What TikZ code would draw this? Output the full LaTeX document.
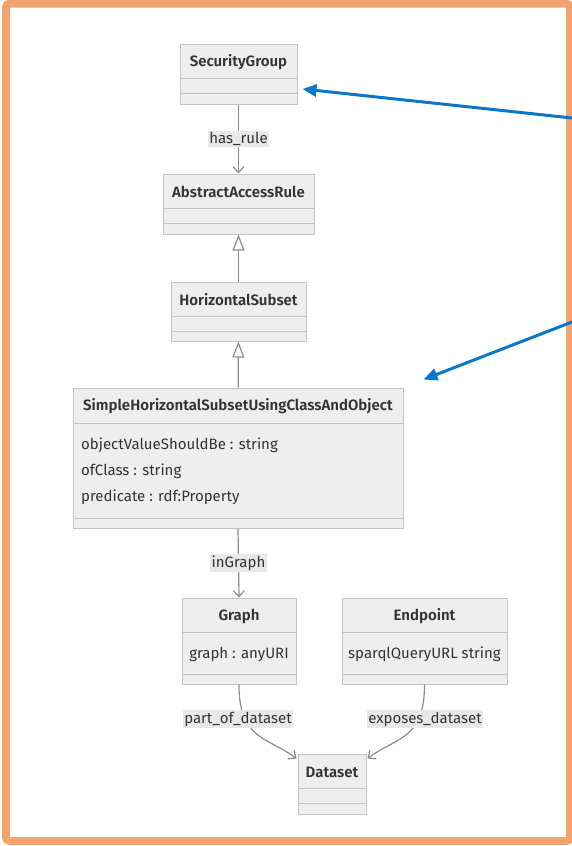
\documentclass[tikz,border=0pt]{standalone}
\usepackage{fontspec}
\setmainfont{Fira Sans}[BoldFont={Fira Sans SemiBold}]
\usetikzlibrary{arrows.meta,positioning}

\definecolor{boxfill}{HTML}{EEEEEE}
\definecolor{boxline}{HTML}{C4C4C4}
\definecolor{linkgray}{HTML}{8C8C8C}
\definecolor{lblfill}{HTML}{E8E8E8}
\definecolor{txt}{HTML}{333333}
\definecolor{frameorange}{HTML}{F3A46E}
\definecolor{callblue}{HTML}{0A78C6}

\tikzset{
  box/.style={draw=boxline, fill=boxfill, line width=1pt, inner sep=0pt},
  sep/.style={draw=boxline, line width=1pt},
  ttl/.style={font=\fontsize{15}{17}\selectfont\bfseries, text=txt},
  attr/.style={font=\fontsize{15}{17}\selectfont, text=txt, inner sep=0pt},
  lbl/.style={font=\fontsize{15}{17}\selectfont, text=txt, fill=lblfill, inner sep=1.5pt},
  assoc/.style={draw=linkgray, line width=1.2pt, -{Straight Barb[length=6pt,width=11pt]}},
  inherit/.style={draw=linkgray, line width=1.2pt, -{Triangle[open,fill=white,length=16pt,width=12pt]}},
  callout/.style={draw=callblue, line width=3pt, -{Triangle[length=14pt,width=12pt]}},
}

\begin{document}
\begin{tikzpicture}[x=1pt,y=-1pt]
    \useasboundingbox (0,0) rectangle (572,846);
    % Frame
    \draw[frameorange, line width=8pt, rounded corners=4pt] (6,3.5) rectangle (570,841);

    % Classes: name/left/top/right/bottom/header/attributes/title
    \foreach \n/\xa/\ya/\xb/\yb/\ha/\hb/\t in {
        sg/180/44/297/104/78/93/SecurityGroup,
        aar/163/174/314/234/208/223/AbstractAccessRule,
        hs/171/282/306/341/316/331/HorizontalSubset,
        shs/73/388/403/528/423/518/SimpleHorizontalSubsetUsingClassAndObject,
        graph/182/598/296/684/632/674/Graph,
        endp/342/598/507/684/632/674/Endpoint,
        ds/298/754/366/814/788/803/Dataset} {
        \node[box, minimum width=\xb-\xa, minimum height=\yb-\ya] (\n) at ({(\xa+\xb)/2},{(\ya+\yb)/2}) {};
        \draw[sep] (\xa,\ha) -- (\xb,\ha);
        \draw[sep] (\xa,\hb) -- (\xb,\hb);
        \node[ttl] (\n-t) at ({(\xa+\xb)/2},{(\ya+\ha)/2+1}) {\t};
    }

    % Attributes
    \node[attr, anchor=west] (shs-a1) at (81,445) {objectValueShouldBe : string};
    \node[attr, anchor=west] (shs-a2) at (81,471) {ofClass : string};
    \node[attr, anchor=west] (shs-a3) at (81,497) {predicate : rdf:Property};
    \node[attr] (graph-a1) at (239,654) {graph : anyURI};
    \node[attr] (endp-a1) at (424.5,654) {sparqlQueryURL string};

    % Relations
    \draw[assoc] (sg) -- node[lbl] (l-rule) {has\_rule} (aar);
    \draw[inherit] (hs) -- (aar);
    \draw[inherit] (shs) -- (hs);
    \draw[assoc] (shs.south) -- node[lbl] (l-graph) {inGraph} (graph.north);
    \draw[assoc] (graph.south) .. controls +(0,55) and +(-30,-22) .. ([shift={(-1,5)}]ds.north west);
    \draw[assoc] (endp.south) .. controls +(0,55) and +(30,-22) .. ([shift={(1,5)}]ds.north east);
    \node[lbl] (l-part) at (238,719) {part\_of\_dataset};
    \node[lbl] (l-expose) at (425,719) {exposes\_dataset};

    % Callouts
    \coordinate (c1) at (572,118);
    \coordinate (c2) at (572,322);
    \draw[callout] (c1) -- ([shift={(5,15)}]sg.east);
    \draw[callout] (c2) -- ([shift={(20,-8)}]shs.north east);
\end{tikzpicture}
\end{document}
